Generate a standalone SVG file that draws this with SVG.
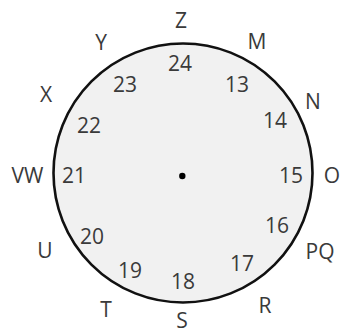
<svg xmlns="http://www.w3.org/2000/svg" width="342" height="333" viewBox="0 0 342 333">
<style>
text{font-family:"Open Sans","Liberation Sans",sans-serif;font-size:21px;fill:#3a3a3a;text-anchor:middle}
</style>
<rect width="342" height="333" fill="#ffffff"/>
<g id="dial">
<circle cx="183" cy="173" r="129.5" fill="#f1f1f1" stroke="#111" stroke-width="2.6"/>
<circle cx="182.3" cy="176" r="3.2" fill="#000"/>
</g>
<g id="outer-labels">
<text x="181" y="28">Z</text>
<text x="101" y="50">Y</text>
<text x="257" y="49">M</text>
<text x="46" y="102">X</text>
<text x="313" y="109">N</text>
<text x="27.5" y="183">VW</text>
<text x="332" y="183">O</text>
<text x="45" y="258">U</text>
<text x="320" y="259">PQ</text>
<text x="106" y="317">T</text>
<text x="265" y="313">R</text>
<text x="182" y="328">S</text>
</g>
<g id="inner-labels">
<text x="180" y="71">24</text>
<text x="125" y="92">23</text>
<text x="237" y="92">13</text>
<text x="89" y="133">22</text>
<text x="275" y="128">14</text>
<text x="74" y="183">21</text>
<text x="291" y="183">15</text>
<text x="92" y="244">20</text>
<text x="277" y="233">16</text>
<text x="130" y="278">19</text>
<text x="242" y="271">17</text>
<text x="183" y="289">18</text>
</g>
</svg>
